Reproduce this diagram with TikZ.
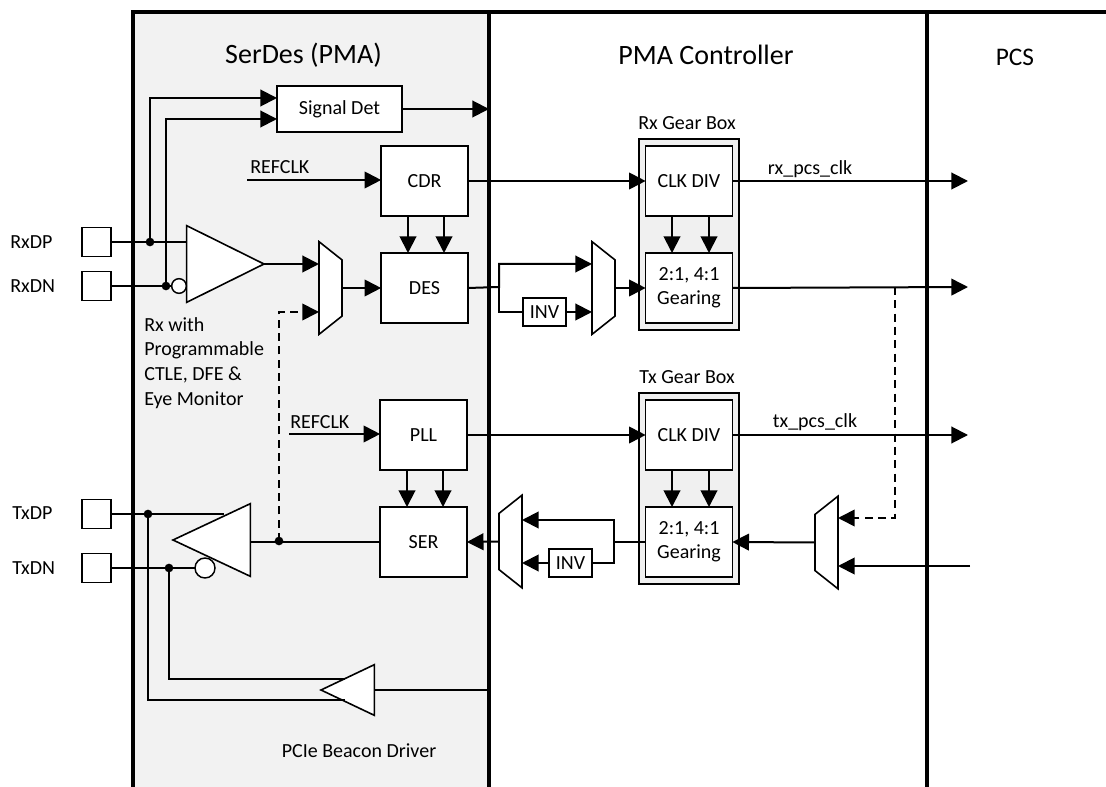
\documentclass[tikz,border=0pt]{standalone}
\usepackage{fontspec}
\setmainfont{Carlito}
\usetikzlibrary{arrows.meta,positioning,shapes.geometric,calc}
\definecolor{panelgrey}{RGB}{242,242,242}
\definecolor{gearfill}{RGB}{240,240,240}

\begin{document}
\begin{tikzpicture}[
  x=0.75pt, y=-0.75pt,
  padbox/.style={rectangle, draw, line width=1.1pt, fill=white, inner sep=0pt, outer sep=0pt,
               minimum width=21.75pt, minimum height=22pt},
  blockbox/.style={rectangle, draw, line width=1.2pt, fill=white, inner sep=0pt, outer sep=0pt,
               minimum width=65pt, minimum height=52.5pt, font=\fontsize{15}{18}\selectfont, align=center},
  invbox/.style={rectangle, draw, line width=1.1pt, fill=white, inner sep=0pt, outer sep=0pt,
               minimum width=32.25pt, minimum height=21pt, font=\fontsize{15}{18}\selectfont},
  gearbox/.style={rectangle, draw, line width=1.9pt, fill=gearfill, inner sep=0pt, outer sep=0pt,
               minimum width=75pt, minimum height=143.5pt},
  muxwide/.style={trapezium, draw, line width=1.2pt, fill=white, inner sep=1pt, outer sep=0pt,
               trapezium stretches=true, minimum width=69.5pt, minimum height=17.25pt,
               trapezium left angle=72, trapezium right angle=72},
  amp/.style={isosceles triangle, draw, line width=1.2pt, fill=white, inner sep=1pt, outer sep=0pt,
               isosceles triangle stretches=true},
  bubble/.style={circle, draw, line width=1.1pt, fill=white, inner sep=0pt, outer sep=0pt},
  dotnode/.style={circle, fill=black, inner sep=0pt, outer sep=0pt, minimum size=6.5pt},
  lbl/.style={font=\fontsize{15}{18}\selectfont, inner sep=0pt},
  head/.style={font=\fontsize{21}{24}\selectfont, inner sep=0pt},
  wire/.style={line width=1.2pt},
  farr/.style={-{Triangle[length=12.5pt,width=12.5pt]}, line width=1.5pt},
  dashwire/.style={line width=1.3pt, dash pattern=on 6pt off 4pt}
]
\useasboundingbox (0,0) rectangle (1106,787);

% Panels
\fill[panelgrey] (133,12) rectangle (489,787);
\draw[line width=2.3pt] (1106,12) -- (133,12) -- (133,787);
\draw[line width=2.3pt] (489,12) -- (489,787);
\draw[line width=2.3pt] (927,12) -- (927,787);
\node[head] (hser) at (303.5,55) {SerDes (PMA)};
\node[head] (hpma) at (706,55) {PMA Controller};
\node[head, font=\fontsize{19}{22}\selectfont] (hpcs) at (1015,57) {PCS};

% Pads
\node[padbox] (rxdp) at (96.5,242) {};
\node[padbox] (rxdn) at (96.5,286) {};
\node[padbox] (txdp) at (96.5,514) {};
\node[padbox] (txdn) at (96.5,568) {};
\node[lbl, anchor=west] (lrxdp) at (10,242) {RxDP};
\node[lbl, anchor=west] (lrxdn) at (10,286) {RxDN};
\node[lbl, anchor=west] (ltxdp) at (12,513) {TxDP};
\node[lbl, anchor=west] (ltxdn) at (12,568) {TxDN};

% SerDes blocks
\node[blockbox, minimum width=93.75pt, minimum height=34.5pt] (sig) at (339.5,109) {Signal Det};
\node[blockbox] (cdr) at (424.5,181) {CDR};
\node[blockbox] (des) at (424.5,288) {DES};
\node[blockbox] (pll) at (423.5,435) {PLL};
\node[blockbox] (ser) at (423.5,542) {SER};
\coordinate (rfa) at (247,180);
\coordinate (rfb) at (289,434);
\node[lbl, anchor=west] (lrfa) at (250,167) {REFCLK};
\node[lbl, anchor=west] (lrfb) at (290,422) {REFCLK};

% Rx amplifier and mux
\node[amp, minimum height=58pt, minimum width=57.5pt, anchor=apex] (rxamp) at (264,264) {};
\node[bubble, minimum size=11pt] (rxinv) at (179,286) {};
\node[muxwide, shape border rotate=270] (rxmux) at (330.5,288) {};
\node[lbl, align=left, anchor=north west, font=\fontsize{15}{18.5}\selectfont] (lrx) at (144,317) {Rx with\\Programmable\\CTLE, DFE \&\\Eye Monitor};

% Tx driver and beacon
\node[amp, shape border rotate=180, minimum height=58pt, minimum width=54.5pt, anchor=apex] (txamp) at (173,540) {};
\node[bubble, minimum size=15pt] (txinv) at (205,568) {};
\node[amp, shape border rotate=180, minimum height=40pt, minimum width=38pt, anchor=apex] (bcn) at (321,690) {};
\node[lbl] (lbcn) at (359,751) {PCIe Beacon Driver};

% Rx gear box
\node[gearbox] (rxgb) at (689,234.5) {};
\node[blockbox] (rxck) at (689,181) {CLK DIV};
\node[blockbox] (rxgr) at (689,288) {2:1, 4:1\\Gearing};
\node[lbl] (lrxgb) at (687,123) {Rx Gear Box};
\node[invbox] (rxi) at (544.5,312) {INV};
\node[muxwide, shape border rotate=270] (rxsel) at (603.5,288) {};
\node[lbl] (lrxclk) at (810,169) {rx\_pcs\_clk};
\coordinate (rxout) at (968,181);
\coordinate (rxdat) at (968,287);

% Tx gear box
\node[gearbox] (txgb) at (689,488.5) {};
\node[blockbox] (txck) at (689,435) {CLK DIV};
\node[blockbox] (txgr) at (689,542) {2:1, 4:1\\Gearing};
\node[lbl] (ltxgb) at (687,377) {Tx Gear Box};
\node[invbox] (txi) at (570.5,563) {INV};
\node[muxwide, shape border rotate=90] (txsel) at (510.5,541.5) {};
\node[muxwide, shape border rotate=90] (txin) at (826.5,542.5) {};
\node[lbl] (ltxclk) at (815,422) {tx\_pcs\_clk};
\coordinate (txout) at (968,435);
\coordinate (txdat) at (970,566);

% Signal detect arrows
\node[dotnode] (dp) at (150,242) {};
\node[dotnode] (dn) at (166,286) {};
\draw[farr] (dp.center) |- ($(sig.west)+(0,-11)$);
\draw[farr] (dn.center) |- ($(sig.west)+(0,10)$);
\draw[farr] (sig.east) -- (489,109);
\draw[wire] (rxdp.east) -- (rxamp.west |- rxdp.east);
\draw[wire] (rxdn.east) -- (rxinv.west);

% SerDes arrows
\draw[farr] (rfa) -- (cdr.west |- rfa);
\draw[farr] (rfb) -- (pll.west |- rfb);
\foreach \dx in {-16.5,19.5} {
  \draw[farr] ($(cdr.south)+(\dx,0)$) -- ($(des.north)+(\dx,0)$);
  \draw[farr] ($(pll.south)+(\dx,0)$) -- ($(ser.north)+(\dx,0)$);
}
\draw[farr] (rxamp.apex) -- (rxmux.west |- rxamp.apex);
\draw[farr] (rxmux.east) -- (des.west);

% Tx driver wires
\draw[wire] (ser.west) -- (txamp.east |- ser.west);
\node[dotnode] (loop) at (279,541) {};
\draw[-{Triangle[length=12.5pt,width=12.5pt]}, dashwire] (loop.center) |- (rxmux.west |- 0,312);
\node[dotnode] (tp) at (148,514) {};
\node[dotnode] (tn) at (169,568) {};
\draw[wire] (txdp.east) -- (224,514);
\draw[wire] (txdn.east) -- (txinv.west);
\draw[wire] (tn.center) |- (345,679);
\draw[wire] (tp.center) |- (345,700);
\draw[wire] (489,690) -- (bcn.east);

% Clock paths
\draw[farr] (cdr.east) -- (rxck.west);
\draw[farr] (pll.east) -- (txck.west);
\draw[farr] (rxck.east) -- (rxout);
\draw[farr] (txck.east) -- (txout);
\foreach \dx in {-17,20} {
  \draw[farr] ($(rxck.south)+(\dx,0)$) -- ($(rxgr.north)+(\dx,0)$);
  \draw[farr] ($(txck.south)+(\dx,0)$) -- ($(txgr.north)+(\dx,0)$);
}

% Rx data path
\coordinate (rxsplit) at (499,287);
\draw[farr] (des.east) -- (rxsplit) |- (rxsel.west |- 0,264);
\draw[wire] (rxsplit) |- (rxi.west);
\draw[farr] (rxi.east) -- (rxsel.west |- rxi.east);
\draw[farr] (rxsel.east) -- (rxgr.west);
\draw[farr] (rxgr.east) -- (rxdat);

% Tx data path
\coordinate (txsplit) at (614,542);
\draw[line width=1.5pt] (txgr.west) -- (txsplit);
\draw[farr] (txsplit) |- (txsel.east |- 0,520);
\draw[wire] (txsplit) |- (txi.east);
\draw[farr] (txi.west) -- (txsel.east |- txi.west);
\draw[farr] (txsel.west) -- (ser.east);
\draw[farr] (txin.west) -- (txgr.east);
\draw[farr] (txdat) -- (txin.east |- txdat);
\draw[-{Triangle[length=12.5pt,width=12.5pt]}, dashwire] (895,287) |- (txin.east |- 0,518);

\end{tikzpicture}
\end{document}
